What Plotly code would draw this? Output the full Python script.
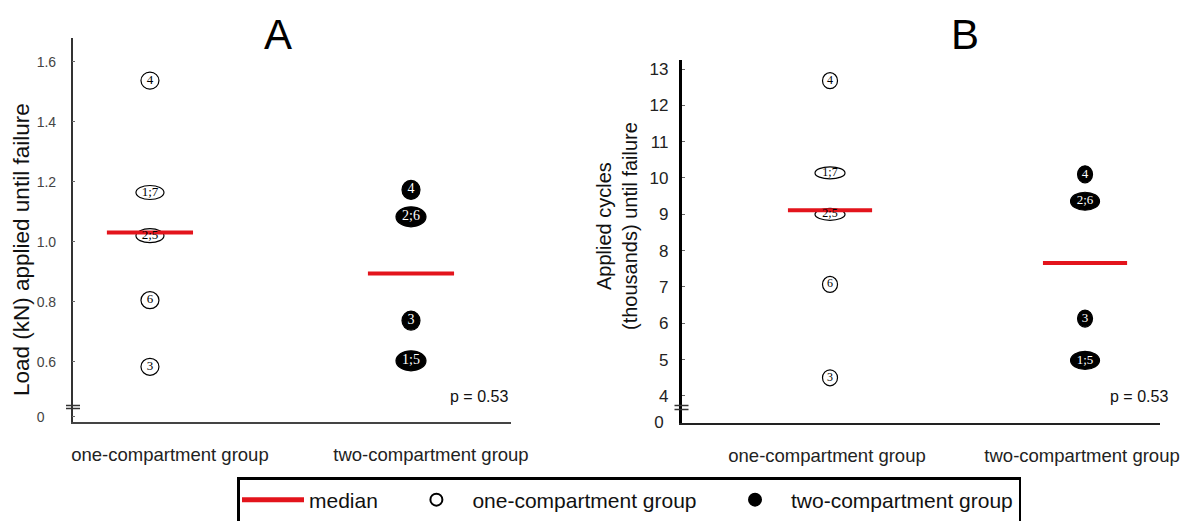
import plotly.graph_objects as go

# ---------------- data ----------------
groups = ["one-compartment group", "two-compartment group"]
group_pos = [1, 2]

load_one_labels = ["4", "1;7", "2;5", "6", "3"]
load_one = [1.537, 1.164, 1.020, 0.805, 0.583]
load_two_labels = ["4", "2;6", "3", "1;5"]
load_two = [1.173, 1.083, 0.737, 0.603]
load_median = [1.031, 0.894]

cyc_one_labels = ["4", "1;7", "2;5", "6", "3"]
cyc_one = [12.68, 10.14, 9.00, 7.07, 4.50]
cyc_two_labels = ["4", "2;6", "3", "1;5"]
cyc_two = [10.10, 9.36, 6.13, 4.98]
cyc_median = [9.11, 7.66]

load_tickvals = [0.417, 0.6, 0.8, 1.0, 1.2, 1.4, 1.6]
load_ticktext = ["0\u00a0\u00a0\u00a0", "0.6", "0.8", "1.0", "1.2", "1.4", "1.6"]
cyc_tickvals = [3.29, 4, 5, 6, 7, 8, 9, 10, 11, 12, 13]
cyc_ticktext = ["0\u00a0", "4", "5", "6", "7", "8", "9", "10", "11", "12", "13"]
p_text = "p = 0.53"
legend_names = ["median", "one-compartment group", "two-compartment group"]

# ---------------- page geometry ----------------
OFF = 8                     # browser body margin
W, H = 1195 - OFF, 521 - OFF


def fx(px):
    return (px - OFF) / W


def fy(py):
    return 1 - (py - OFF) / H


RED = "#e3141c"
SANS = "Liberation Sans, Arial, sans-serif"
SERIF = "Liberation Serif, Times New Roman, serif"
HALF = 0.165
PAD = "\u00a0" * 3

fig = go.Figure()
shapes = []

panels = [
    dict(xa="x", ya="y", one=load_one, one_lab=load_one_labels, two=load_two,
         two_lab=load_two_labels, med=load_median,
         open_single=(18, 17), open_pair=(28, 14), fill_single=(18, 19), fill_pair=(30, 20), fs=13),
    dict(xa="x2", ya="y2", one=cyc_one, one_lab=cyc_one_labels, two=cyc_two,
         two_lab=cyc_two_labels, med=cyc_median,
         open_single=(15, 16), open_pair=(30, 12), fill_single=(15, 17), fill_pair=(29, 18), fs=12),
]

first = True
for p in panels:
    for g, m in zip(group_pos, p["med"]):
        fig.add_trace(go.Scatter(
            x=[g - HALF, g + HALF], y=[m, m], mode="lines",
            line=dict(color=RED, width=4), name=legend_names[0] + PAD, legendgroup="median",
            showlegend=first, xaxis=p["xa"], yaxis=p["ya"], hoverinfo="skip"))
        first = False
    for g, vals, labs, filled in [(group_pos[0], p["one"], p["one_lab"], False),
                                  (group_pos[1], p["two"], p["two_lab"], True)]:
        for v, lab in zip(vals, labs):
            if filled:
                w, h = p["fill_pair"] if ";" in lab else p["fill_single"]
            else:
                w, h = p["open_pair"] if ";" in lab else p["open_single"]
            shapes.append(dict(
                type="circle", xref=p["xa"], yref=p["ya"],
                xsizemode="pixel", ysizemode="pixel", xanchor=g, yanchor=v,
                x0=-w / 2, x1=w / 2, y0=-h / 2, y1=h / 2,
                fillcolor="black" if filled else "white",
                line=dict(color="black", width=1.2), layer="below"))
        fig.add_trace(go.Scatter(
            x=[g] * len(vals), y=vals, text=labs, mode="text",
            textposition="middle center",
            textfont=dict(family=SERIF, size=p["fs"] + (1 if filled else 0),
                          color="white" if filled else "black"),
            showlegend=False, xaxis=p["xa"], yaxis=p["ya"], hoverinfo="skip"))

# legend-only traces
fig.add_trace(go.Scatter(x=[None], y=[None], mode="markers", name=legend_names[1] + PAD,
                         marker=dict(symbol="circle", size=19, color="white",
                                     line=dict(color="black", width=1.5))))
fig.add_trace(go.Scatter(x=[None], y=[None], mode="markers", name=legend_names[2],
                         marker=dict(symbol="circle", size=19, color="black",
                                     line=dict(color="black", width=1.5))))

# axis break marks
for (xc, ys) in [(73, (405.5, 408.5)), (681.5, (405.5, 409.5))]:
    for yy in ys:
        shapes.append(dict(type="line", xref="paper", yref="paper",
                           x0=fx(xc - 7), x1=fx(xc + 7), y0=fy(yy), y1=fy(yy),
                           line=dict(color="#333", width=1.5)))

xcommon = dict(showgrid=False, zeroline=False, showline=True, ticks="",
               tickvals=group_pos, ticktext=groups,
               tickfont=dict(family=SANS, size=18.5, color="#222"))
ycommon = dict(showgrid=False, zeroline=False, showline=True, ticks="inside",
               ticklen=3, tickcolor="#666")

fig.update_layout(
    width=W, height=H,
    margin=dict(l=0, r=0, t=0, b=0, autoexpand=False),
    paper_bgcolor="white", plot_bgcolor="white",
    showlegend=True,
    xaxis=dict(**xcommon, domain=[fx(72.7), fx(510.7)], range=[0.704, 2.382],
               anchor="y", linecolor="#444", linewidth=2,
               ticklabelshift=20, ticklabelstandoff=15),
    yaxis=dict(**ycommon, domain=[fy(421.7), fy(38)], range=[0.4, 1.679],
               anchor="x", tickvals=load_tickvals, ticktext=load_ticktext,
               linecolor="#333", linewidth=1.5, ticklabelstandoff=12,
               tickfont=dict(family=SANS, size=14, color="#444")),
    xaxis2=dict(**xcommon, domain=[fx(681.7), fx(1160)], range=[0.4184, 2.294],
                anchor="y2", linecolor="#222", linewidth=2,
                ticklabelshift=-3, ticklabelstandoff=15),
    yaxis2=dict(**ycommon, domain=[fy(422.7), fy(60)], range=[3.264, 13.248],
                anchor="x2", tickvals=cyc_tickvals, ticktext=cyc_ticktext,
                linecolor="black", linewidth=2.8, ticklabelstandoff=7,
                tickfont=dict(family=SANS, size=17, color="#222")),
    legend=dict(orientation="h", x=fx(629), xanchor="center", y=fy(477), yanchor="top",
                bordercolor="black", borderwidth=2.5, bgcolor="white",
                font=dict(family=SANS, size=21, color="#111"),
                itemwidth=62, itemsizing="constant"),
    shapes=shapes,
    annotations=[
        dict(text="A", x=fx(278), y=fy(34), xref="paper", yref="paper", showarrow=False,
             xanchor="center", yanchor="middle",
             font=dict(family=SANS, size=42, color="black")),
        dict(text="B", x=fx(965), y=fy(34), xref="paper", yref="paper", showarrow=False,
             xanchor="center", yanchor="middle",
             font=dict(family=SANS, size=42, color="black")),
        dict(text="Load (kN) applied until failure", x=fx(21), y=fy(250), xref="paper",
             yref="paper", showarrow=False, textangle=-90, xanchor="center", yanchor="middle",
             font=dict(family=SANS, size=22.5, color="#111")),
        dict(text="Applied cycles<br>(thousands) until failure", x=fx(617), y=fy(226),
             xref="paper", yref="paper", showarrow=False, textangle=-90,
             xanchor="center", yanchor="middle",
             font=dict(family=SANS, size=20, color="#111")),
        dict(text=p_text, x=fx(478.5), y=fy(396), xref="paper", yref="paper",
             showarrow=False, xanchor="center", yanchor="middle",
             font=dict(family=SANS, size=16, color="#111")),
        dict(text=p_text, x=fx(1139), y=fy(396.5), xref="paper", yref="paper",
             showarrow=False, xanchor="center", yanchor="middle",
             font=dict(family=SANS, size=16, color="#111")),
    ],
)

fig.write_html("out.html")
